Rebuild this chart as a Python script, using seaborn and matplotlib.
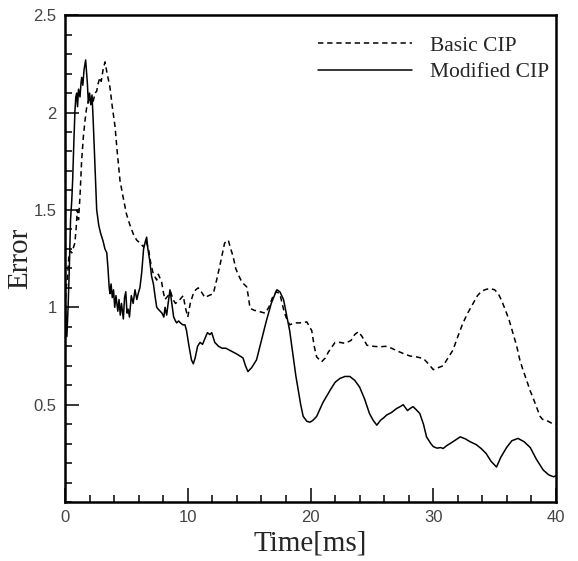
import numpy as np
import pandas as pd
import matplotlib
matplotlib.use("Agg")
import matplotlib.pyplot as plt
from matplotlib.ticker import MultipleLocator, FixedLocator
import seaborn as sns

# 数据：近似值
modified_t = [0.0, 0.08, 0.15, 0.25, 0.35, 0.45, 0.55, 0.62, 0.72, 0.81, 0.88, 0.95,
              1.02, 1.1, 1.22, 1.3, 1.36, 1.45, 1.55, 1.68, 1.82, 1.9, 2.0, 2.1, 2.2,
              2.3, 2.44, 2.58, 2.75, 2.9, 3.1, 3.25, 3.4, 3.5, 3.6, 3.66, 3.75, 3.85,
              3.95, 4.05, 4.15, 4.3, 4.4, 4.5, 4.6, 4.75, 4.85, 4.95, 5.05, 5.15, 5.25,
              5.4, 5.55, 5.7, 5.85, 6.0, 6.1, 6.25, 6.4, 6.55, 6.65, 6.75, 6.9, 7.05,
              7.2, 7.35, 7.47, 7.6, 7.75, 7.9, 8.05, 8.15, 8.28, 8.4, 8.55, 8.7, 8.85,
              9.0, 9.1, 9.25, 9.4, 9.6, 9.77, 9.9, 10.1, 10.3, 10.45, 10.6, 10.8, 11.0,
              11.2, 11.4, 11.6, 11.8, 11.95, 12.2, 12.5, 12.8, 13.1, 13.4, 13.7, 14.0,
              14.25, 14.5, 14.7, 14.9, 15.2, 15.6, 16.0, 16.4, 16.8, 17.25, 17.5, 17.8,
              18.3, 18.8, 19.2, 19.4, 19.7, 19.95, 20.2, 20.5, 21.0, 21.6, 22.0, 22.4,
              22.8, 23.2, 23.6, 24.0, 24.4, 24.8, 25.1, 25.4, 25.7, 26.0, 26.2, 26.6,
              27.0, 27.3, 27.55, 27.9, 28.1, 28.35, 28.6, 28.9, 29.2, 29.45, 29.8, 30.0,
              30.3, 30.6, 30.8, 31.1, 31.6, 32.2, 32.6, 33.0, 33.5, 33.9, 34.3, 34.7,
              35.15, 35.5, 35.97, 36.4, 36.9, 37.4, 37.9, 38.4, 38.95, 39.4, 39.8, 40.0]
modified_err = [1.05, 0.95, 0.85, 1.0, 1.2, 1.45, 1.55, 1.65, 1.85, 2.01, 2.08, 2.10,
                2.03, 2.12, 2.08, 2.15, 2.18, 2.14, 2.22, 2.27, 2.15, 2.05, 2.10, 2.04, 2.09,
                1.95, 1.72, 1.50, 1.42, 1.38, 1.34, 1.30, 1.28, 1.20, 1.10, 1.07, 1.12, 1.05,
                1.09, 1.00, 1.06, 0.98, 1.04, 0.96, 1.02, 0.94, 1.05, 1.08, 0.97, 0.99, 0.95,
                1.06, 1.02, 1.09, 1.04, 1.08, 1.10, 1.18, 1.30, 1.34, 1.36, 1.30, 1.24, 1.16,
                1.12, 1.05, 1.00, 0.99, 0.98, 0.97, 0.95, 1.00, 0.96, 1.02, 1.09, 1.02, 0.95,
                0.93, 0.92, 0.93, 0.92, 0.91, 0.91, 0.88, 0.80, 0.73, 0.71, 0.74, 0.80, 0.82,
                0.81, 0.84, 0.87, 0.86, 0.87, 0.82, 0.80, 0.79, 0.79, 0.78, 0.77, 0.76,
                0.75, 0.74, 0.70, 0.67, 0.69, 0.73, 0.83, 0.93, 1.02, 1.09, 1.08, 1.04,
                0.88, 0.65, 0.50, 0.44, 0.415, 0.41, 0.42, 0.44, 0.51, 0.575, 0.615, 0.635,
                0.645, 0.645, 0.625, 0.59, 0.53, 0.455, 0.42, 0.395, 0.42, 0.435, 0.447, 0.46,
                0.48, 0.49, 0.50, 0.47, 0.48, 0.49, 0.475, 0.455, 0.40, 0.335, 0.30, 0.285,
                0.277, 0.28, 0.275, 0.29, 0.31, 0.335, 0.325, 0.31, 0.295, 0.275, 0.25, 0.21,
                0.18, 0.23, 0.28, 0.315, 0.327, 0.31, 0.28, 0.22, 0.165, 0.14, 0.13, 0.135]

basic_t = [0.0, 0.1, 0.2, 0.3, 0.4, 0.55, 0.7, 0.8, 0.9, 1.0, 1.1, 1.22, 1.35, 1.5,
           1.63, 1.75, 1.9, 2.05, 2.2, 2.3, 2.45, 2.58, 2.7, 2.85, 2.95, 3.1, 3.26, 3.4,
           3.5, 3.66, 3.85, 4.07, 4.25, 4.48, 4.75, 5.0, 5.3, 5.6, 5.84, 6.1, 6.4, 6.6,
           6.8, 7.0, 7.2, 7.47, 7.6, 7.87, 8.0, 8.14, 8.4, 8.6, 8.8, 9.0, 9.2, 9.36,
           9.63, 9.8, 10.0, 10.2, 10.45, 10.65, 10.85, 11.1, 11.4, 11.7, 12.08, 12.35,
           12.6, 12.8, 13.0, 13.3, 13.5, 13.7, 13.9, 14.1, 14.4, 14.8, 14.95, 15.07,
           15.4, 15.9, 16.3, 16.6, 16.9, 17.2, 17.5, 17.8, 18.0, 18.3, 18.7, 19.1, 19.7,
           20.1, 20.3, 20.5, 20.9, 21.2, 21.45, 22.0, 22.4, 22.8, 23.3, 23.6, 23.9, 24.2,
           24.6, 25.1, 25.65, 26.1, 26.6, 27.1, 27.55, 28.1, 28.6, 29.2, 29.6, 30.0,
           30.4, 30.8, 31.2, 31.6, 32.0, 32.4, 32.8, 33.25, 33.6, 33.9, 34.2, 34.6, 35.0,
           35.3, 35.6, 35.97, 36.2, 36.5, 36.8, 37.05, 37.3, 37.6, 37.9, 38.1, 38.4,
           38.7, 38.9, 39.2, 39.5, 39.8, 40.0]
basic_err = [1.0, 1.1, 1.15, 1.25, 1.29, 1.28, 1.31, 1.33, 1.40, 1.50, 1.45, 1.57, 1.75, 1.88,
             1.96, 2.02, 2.06, 2.08, 2.04, 2.06, 2.10, 2.11, 2.15, 2.18, 2.16, 2.22, 2.26, 2.21,
             2.18, 2.13, 2.03, 1.93, 1.80, 1.65, 1.56, 1.48, 1.42, 1.37, 1.345, 1.33, 1.31, 1.34,
             1.30, 1.22, 1.17, 1.14, 1.17, 1.13, 1.08, 1.04, 1.06, 1.08, 1.04, 1.02, 1.03, 1.04,
             1.06, 1.00, 0.95, 1.02, 1.07, 1.09, 1.10, 1.08, 1.05, 1.06, 1.07, 1.14,
             1.21, 1.27, 1.33, 1.345, 1.30, 1.26, 1.20, 1.17, 1.13, 1.105, 1.05, 0.995,
             0.985, 0.977, 0.97, 1.00, 1.05, 1.08, 1.07, 0.99, 0.95, 0.91, 0.92, 0.92, 0.925,
             0.88, 0.80, 0.745, 0.72, 0.74, 0.77, 0.82, 0.82, 0.815, 0.83, 0.86, 0.875, 0.85,
             0.805, 0.80, 0.797, 0.80, 0.79, 0.775, 0.763, 0.75, 0.746, 0.737, 0.71, 0.68,
             0.69, 0.70, 0.74, 0.78, 0.85, 0.917, 0.97, 1.02, 1.06, 1.08, 1.09, 1.097, 1.09,
             1.07, 1.03, 0.97, 0.93, 0.865, 0.80, 0.73, 0.68, 0.626, 0.57, 0.54, 0.49,
             0.44, 0.425, 0.42, 0.41, 0.40, 0.40]

x_ticks = [0, 10, 20, 30, 40]
y_ticks = [0.5, 1.0, 1.5, 2.0, 2.5]
y_tick_labels = ["0.5", "1", "1.5", "2", "2.5"]

df = pd.concat([
    pd.DataFrame({"Time": basic_t, "Error": basic_err, "Method": "Basic CIP"}),
    pd.DataFrame({"Time": modified_t, "Error": modified_err, "Method": "Modified CIP"}),
], ignore_index=True)

sns.set_style("ticks")

fig = plt.figure(figsize=(5.78, 5.61), dpi=100)
ax = fig.add_axes([0.1125, 0.105, 0.8495, 0.868])

sns.lineplot(data=df, x="Time", y="Error", style="Method", estimator=None, sort=False,
             dashes={"Basic CIP": (3.5, 2.5), "Modified CIP": ""},
             color="black", linewidth=1.1, ax=ax)

ax.set_xlim(0, 40)
ax.set_ylim(0, 2.5)
ax.xaxis.set_major_locator(FixedLocator(x_ticks))
ax.xaxis.set_minor_locator(MultipleLocator(2))
ax.yaxis.set_major_locator(FixedLocator(y_ticks))
ax.set_yticklabels(y_tick_labels)
ax.yaxis.set_minor_locator(MultipleLocator(0.1))

ax.tick_params(which="both", direction="in", top=False, right=False, width=1.3,
               labelsize=12, labelcolor="#444444")
ax.tick_params(which="major", length=10, pad=6)
ax.tick_params(which="minor", length=5)
for lab in ax.get_xticklabels() + ax.get_yticklabels():
    lab.set_family("Liberation Sans")

for side in ["left", "right", "top", "bottom"]:
    ax.spines[side].set_linewidth(1.8)
    ax.spines[side].set_color("black")

ax.set_xlabel("Time[ms]", family="Liberation Serif", fontsize=21, labelpad=4)
ax.set_ylabel("Error", family="Liberation Serif", fontsize=21)
ax.yaxis.set_label_coords(-0.064, 0.5)

leg = ax.legend(loc="upper right", bbox_to_anchor=(0.985, 0.958), frameon=False,
                prop={"family": "Liberation Serif", "size": 15.5},
                handlelength=4.4, handletextpad=0.8, labelspacing=0.3,
                borderpad=0, borderaxespad=0)
for line in leg.get_lines():
    line.set_linewidth(1.1)

fig.savefig("out.png", dpi=100)
